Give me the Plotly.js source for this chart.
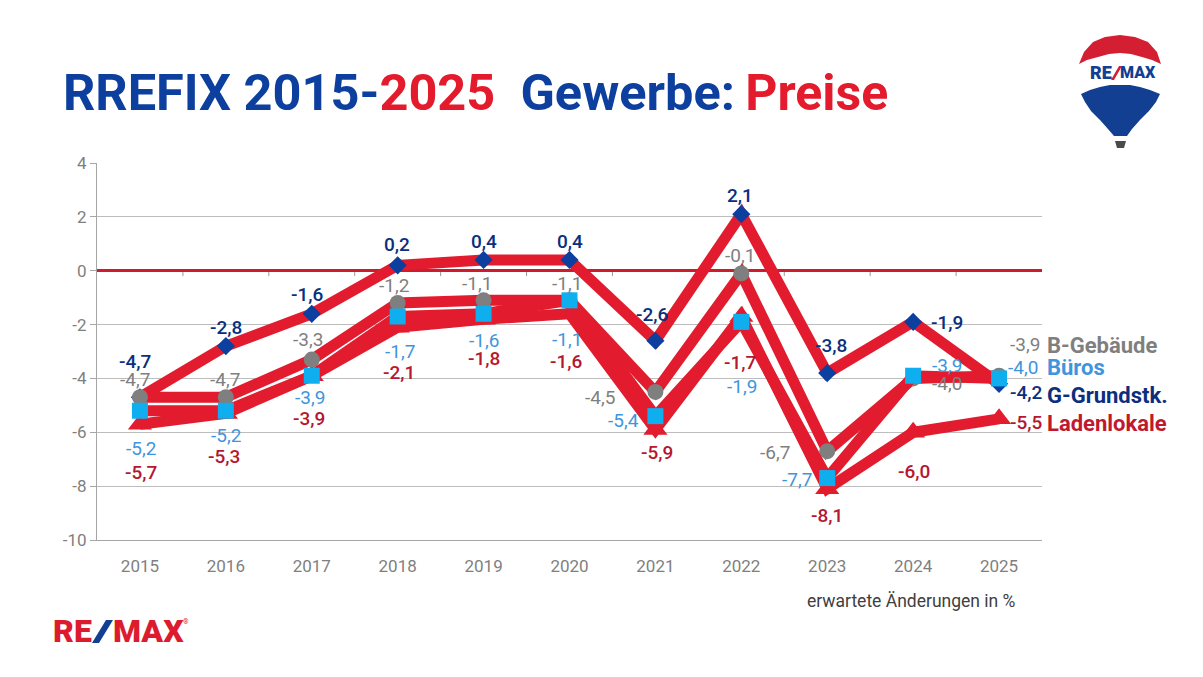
<!DOCTYPE html>
<html><head><meta charset="utf-8">
<script src="https://cdn.plot.ly/plotly-3.0.1.min.js"></script>
<style>html,body{margin:0;padding:0;background:#fff}#c{width:1203px;height:677px}</style>
</head><body><div id="c"></div>
<script>
const years = ['2015','2016','2017','2018','2019','2020','2021','2022','2023','2024','2025'];
const grundstk = [-4.7,-2.8,-1.6,0.2,0.4,0.4,-2.6,2.1,-3.8,-1.9,-4.2];
const gebaeude = [-4.7,-4.7,-3.3,-1.2,-1.1,-1.1,-4.5,-0.1,-6.7,-4.0,-3.9];
const bueros = [-5.2,-5.2,-3.9,-1.7,-1.6,-1.1,-5.4,-1.9,-7.7,-3.9,-4.0];
const laden = [-5.7,-5.3,-3.9,-2.1,-1.8,-1.6,-5.9,-1.7,-8.1,-6.0,-5.5];
const yTicks = [4,2,0,-2,-4,-6,-8,-10];
const seriesNames = ['Ladenlokale','G-Grundstk.','B-Gebäude','Büros'];

const BLUE='#0D3F9E', RED='#E31B2D', LINE='#E21C2E';
const W=1203,H=677,L=97,R=1042,T=163,B=540;
const px=x=>(x-L)/(R-L), py=y=>(B-y)/(B-T);

const styleOf = {
 'Ladenlokale':{values:laden,symbol:'triangle-up',size:21,color:'#E21C2E',text:'#B5172F',weight:500,
  off:[[1,48],[-2,43],[-3,43],[1,45],[0,39],[-3,48],[2,23],[-1,46],[0,27],[1,39],[27,4]]},
 'G-Grundstk.':{values:grundstk,symbol:'diamond',size:14,color:'#0D3F9E',text:'#0B2F7E',weight:500,
  off:[[-5,-36],[0,-19],[-4,-19],[-1,-21],[0,-18],[0,-18],[-3,-26],[-1,-19],[4,-28],[34,1],[27,9]]},
 'B-Gebäude':{values:gebaeude,symbol:'circle',size:16,color:'#7F7F7F',text:'#7F7F7F',weight:400,
  off:[[-5,-18],[-1,-18],[-4,-20],[-4,-18],[-7,-17],[-3,-17],[-55,6],[-1,-18],[-52,1],[34,5],[26,-31]]},
 'Büros':{values:bueros,symbol:'square',size:16,color:'#0FAEEF',text:'#3E95DD',weight:400,
  off:[[1,38],[0,25],[-2,22],[2,35],[0,27],[-3,39],[-32,4],[1,65],[-30,1],[34,-10],[24,-11]]}
};

const traces = seriesNames.map(n=>{const s=styleOf[n];return {
  type:'scatter',mode:'lines+markers',name:n,x:years,y:s.values,cliponaxis:false,
  line:{color:LINE,width:11,shape:'linear'},
  marker:{symbol:s.symbol,size:s.size,color:s.color,line:{width:0}},hoverinfo:'skip'
};});

const annotations=[];
seriesNames.forEach(n=>{const s=styleOf[n];
  s.values.forEach((v,i)=>annotations.push({xref:'x',yref:'y',x:i,y:v,xshift:s.off[i][0],yshift:-s.off[i][1],
    text:v.toFixed(1).replace('.',','),showarrow:false,xanchor:'center',yanchor:'middle',
    font:{family:'Roboto',size:19,color:s.text,weight:s.weight}}));
});
function txt(t,x,y,size,color,weight,anchor){annotations.push({xref:'paper',yref:'paper',x:px(x),y:py(y),text:t,showarrow:false,
  xanchor:anchor||'left',yanchor:'middle',font:{family:'Roboto',size,color,weight:weight||400},borderpad:0});}
txt('B-Gebäude',1046,345,22,'#7F7F7F',700);
txt('Büros',1046,367,22,'#3E95DD',700);
txt('G-Grundstk.',1046,395,22,'#0B2F7E',700);
txt('Ladenlokale',1046,423,22,'#C0182F',700);
txt('erwartete Änderungen in %',806,601,17.5,'#404040',400);
txt('RE',52,631,32,'#DC1C2E',900);
txt('MAX',112,631,32,'#DC1C2E',900);
txt('®',182,622,7,'#DC1C2E',400);
txt('RE',1089,73,18,'#123F91',900);
txt('MAX',1119,73,16,'#123F91',900);

const pp=(pts)=>'M'+pts.map(p=>px(p[0]).toFixed(5)+','+py(p[1]).toFixed(5)).join(' L')+' Z';
const paperShape=(pts,color)=>({type:'path',xref:'paper',yref:'paper',path:pp(pts),fillcolor:color,line:{width:0},layer:'above'});
const shapes=[];
for(let i=0;i<10;i++){shapes.push({type:'line',xref:'x',yref:'y',x0:i+0.5,x1:i+0.5,y0:0,y1:-0.2,line:{color:'#999999',width:1},layer:'below'});}
// balloon: red crown, blue body, basket
shapes.push(paperShape([[1079,64],[1084,52],[1093,42],[1105,37],[1120,35],[1135,37],[1148,42],[1157,52],[1161,64],[1152,60],[1142,57],[1131,54],[1120,53],[1109,54],[1098,57],[1087,60]],'#D41F32'));
shapes.push(paperShape([[1081,94],[1090,90],[1100,87],[1110,85],[1120,85],[1130,85],[1140,87],[1150,90],[1160,94],[1156,102],[1149,111],[1140,120],[1132,129],[1127,136],[1114,136],[1108,129],[1100,120],[1091,111],[1085,102]],'#123F91'));
shapes.push(paperShape([[1115,141],[1126,141],[1124,148],[1117,148]],'#4A4A4A'));
// slashes of the two logos
shapes.push(paperShape([[92,643],[99,643],[113,620],[106,620]],'#123F91'));
shapes.push(paperShape([[1111,80],[1114,80],[1122,66],[1119,66]],'#D41F32'));

const layout={width:W,height:H,paper_bgcolor:'#fff',plot_bgcolor:'#fff',showlegend:false,
  margin:{l:L,r:W-R,t:T,b:H-B,pad:0},
  title:{text:'RREFIX 2015-<span style="color:#E31B2D">2025</span>\u00A0\u00A0Gewerbe:\u2009<span style="color:#E31B2D;font-size:50px">Preise</span>',
    x:63/W,xref:'container',xanchor:'left',y:1-92/H,yref:'container',yanchor:'middle',
    font:{family:'Roboto',size:50.5,color:BLUE,weight:700}},
  xaxis:{type:'category',range:[-0.5,10.5],showgrid:false,zeroline:false,showline:true,linecolor:'#A6A6A6',linewidth:1,
    ticks:'outside',ticklen:11,tickcolor:'rgba(0,0,0,0)',tickfont:{family:'Roboto',size:17,color:'#7F7F7F'},fixedrange:true},
  yaxis:{range:[-10,4],tickvals:yTicks,ticktext:yTicks.map(String),showgrid:true,gridcolor:'#BDBDBD',gridwidth:1,
    zeroline:true,zerolinecolor:'#CF1B2E',zerolinewidth:3,showline:true,linecolor:'#A6A6A6',linewidth:1,
    ticks:'outside',ticklen:6,tickcolor:'#A6A6A6',tickfont:{family:'Roboto',size:17,color:'#7F7F7F'},fixedrange:true},
  annotations,shapes};
Plotly.newPlot('c',traces,layout,{displayModeBar:false,staticPlot:true});
</script></body></html>
